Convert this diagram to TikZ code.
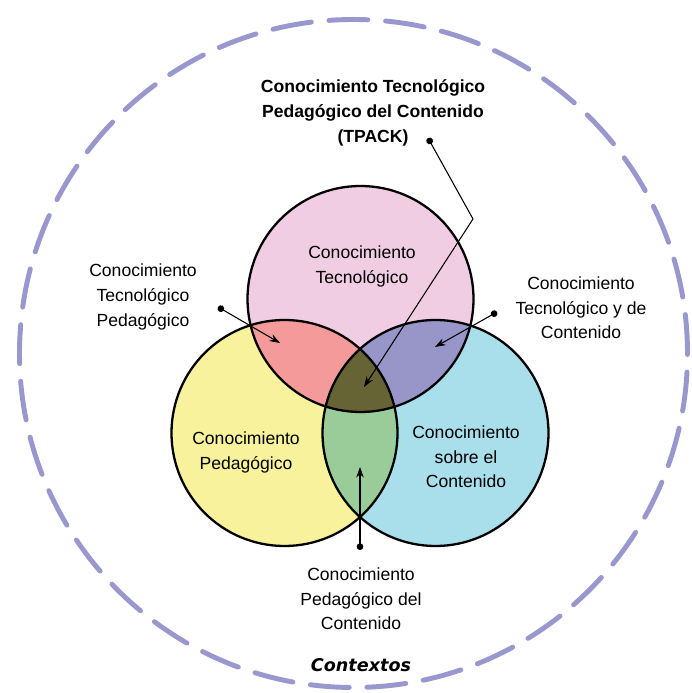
\documentclass[tikz,border=0pt]{standalone}
\usepackage{fontspec}
\setmainfont{Liberation Sans}
\newfontfamily\ctxfont{DejaVu Sans}
\usetikzlibrary{arrows.meta}

\definecolor{tkpink}{RGB}{240,205,227}
\definecolor{pkyellow}{RGB}{248,242,156}
\definecolor{ckblue}{RGB}{169,222,235}
\definecolor{tpkred}{RGB}{244,154,154}
\definecolor{tckpurple}{RGB}{152,150,200}
\definecolor{pckgreen}{RGB}{153,204,153}
\definecolor{tpackolive}{RGB}{102,99,53}
\definecolor{ctxlilac}{RGB}{152,152,206}

\tikzset{
  label text/.style={align=center, font=\fontsize{10}{14}\selectfont},
  venn line/.style={draw=black, line width=1.3pt},
  pointer/.style={line width=0.6pt, {Circle[length=3.8pt]}-{Stealth[length=6pt, width=4.2pt]}}
}

\begin{document}
\begin{tikzpicture}
        \useasboundingbox (0,0) rectangle (13.82,13.86);

        % Contexts (dashed outer circle)
        \draw[ctxlilac, line width=2.8pt, line cap=round, dash pattern=on 0.78cm off 0.354cm] (7.07,6.79) circle (6.68);

        % Base circles
        \fill[tkpink] (7.21,7.88) circle (2.26);   % TK
        \fill[pkyellow] (5.69,5.20) circle (2.26); % PK
        \fill[ckblue] (8.71,5.20) circle (2.26);   % CK

        % Overlaps
        \begin{scope}
            \clip (7.21,7.88) circle (2.26);
            \fill[tpkred] (5.69,5.20) circle (2.26);    % TPK
            \fill[tckpurple] (8.71,5.20) circle (2.26); % TCK
        \end{scope}
        \begin{scope}
            \clip (5.69,5.20) circle (2.26);
            \fill[pckgreen] (8.71,5.20) circle (2.26);  % PCK
            \clip (8.71,5.20) circle (2.26);
            \fill[tpackolive] (7.21,7.88) circle (2.26); % TPACK
        \end{scope}

        % Outlines
        \draw[venn line] (7.21,7.88) circle (2.26);
        \draw[venn line] (5.69,5.20) circle (2.26);
        \draw[venn line] (8.71,5.20) circle (2.26);

        % Labels
        \node[label text, font=\fontsize{10}{14.2}\selectfont\bfseries] (tpack) at (7.46,11.60) {Conocimiento Tecnológico\\Pedagógico del Contenido\\(TPACK)};
        \node[label text] (tk) at (7.24,8.53) {Conocimiento\\Tecnológico};
        \node[label text] (tpk) at (2.86,7.92) {Conocimiento\\Tecnológico\\Pedagógico};
        \node[label text] (tck) at (11.62,7.70) {Conocimiento\\Tecnológico y de\\Contenido};
        \node[label text] (pk) at (4.92,4.81) {Conocimiento\\Pedagógico};
        \node[label text] (ck) at (9.32,4.72) {Conocimiento\\sobre el\\Contenido};
        \node[label text] (pck) at (7.22,1.88) {Conocimiento\\Pedagógico del\\Contenido};
        \node[font=\ctxfont\fontsize{10}{12}\selectfont\bfseries\itshape] (ctx) at (7.22,0.56) {Contextos};

        % Pointers
        \coordinate (tpackdot) at (8.56,11.10);
        \coordinate (tpackbend) at (9.46,9.48);
        \coordinate (tpacktip) at (7.28,6.12);
        \coordinate (tpkdot) at (4.36,7.72);
        \coordinate (tpktip) at (5.60,7.00);
        \coordinate (tckdot) at (9.94,7.62);
        \coordinate (tcktip) at (8.70,6.92);
        \coordinate (pckdot) at (7.20,2.86);
        \coordinate (pcktip) at (7.20,4.52);

        \draw[pointer] (tpackdot) -- (tpackbend) -- (tpacktip);
        \draw[pointer] (tpkdot) -- (tpktip);
        \draw[pointer] (tckdot) -- (tcktip);
        \draw[pointer] (pckdot) -- (pcktip);
    \end{tikzpicture}
\end{document}
